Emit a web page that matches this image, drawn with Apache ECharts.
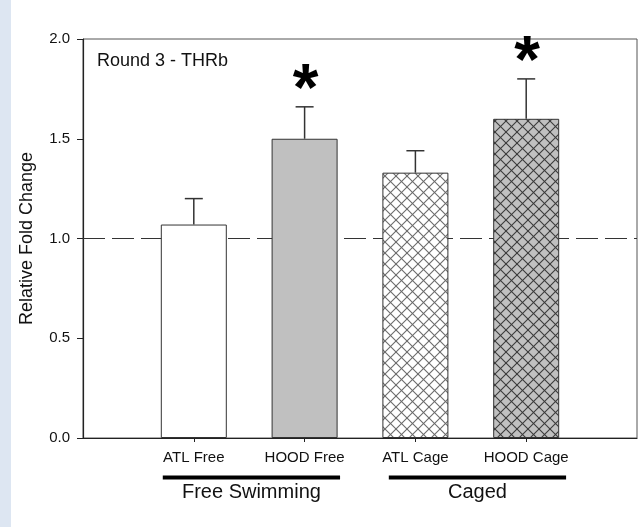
<!DOCTYPE html>
<html>
<head>
<meta charset="utf-8">
<script src="https://cdn.jsdelivr.net/npm/echarts@6/dist/echarts.min.js"></script>
<style>
  html, body { margin: 0; padding: 0; background: #fff; }
  #chart-panel { width: 644px; height: 527px; }
</style>
</head>
<body>
<div id="chart-panel"></div>
<script>
// data
var categories = ['ATL Free', 'HOOD Free', 'ATL Cage', 'HOOD Cage'];
var positions = [1, 2, 3, 4];
var means = [1.07, 1.50, 1.33, 1.60];
var errTops = [1.20, 1.66, 1.44, 1.80];
var significant = [false, true, false, true];
var hatched = [false, false, true, true];
var filled = [false, true, false, true];
var yTicks = [0, 0.5, 1.0, 1.5, 2.0];
var refLevel = 1.0;
var groupNames = ['Free Swimming', 'Caged'];
var groupSpans = [[0.72, 2.32], [2.76, 4.36]];

var FONT = 'Liberation Sans, Arial, sans-serif';

// cross hatch pattern for the caged bars
function makeHatch (bg, lineColor) {
  var s = 11;
  var cv = document.createElement('canvas');
  cv.width = s;
  cv.height = s;
  var ctx = cv.getContext('2d');
  ctx.fillStyle = bg;
  ctx.fillRect(0, 0, s, s);
  ctx.strokeStyle = lineColor;
  ctx.lineWidth = 1.1;
  [-s, 0, s].forEach(function (o) {
    ctx.beginPath();
    ctx.moveTo(o - 1, -1);
    ctx.lineTo(o + s + 1, s + 1);
    ctx.stroke();
    ctx.beginPath();
    ctx.moveTo(o - 1, s + 1);
    ctx.lineTo(o + s + 1, -1);
    ctx.stroke();
  });
  return { image: cv, repeat: 'repeat' };
}

function barColor (i) {
  var bg = filled[i] ? '#c0c0c0' : '#ffffff';
  if (hatched[i]) {
    return makeHatch(bg, filled[i] ? '#3a3a3a' : '#6a6a6a');
  }
  return bg;
}

var barData = positions.map(function (p, i) {
  return {
    value: [p, means[i]],
    itemStyle: { color: barColor(i) }
  };
});

var errData = positions.map(function (p, i) {
  return [p, errTops[i], means[i], significant[i] ? 1 : 0];
});

var chart = echarts.init(document.getElementById('chart-panel'));

var option = {
  backgroundColor: '#fff',
  animation: false,
  title: {
    text: 'Round 3 - THRb',
    left: 92,
    top: 47,
    textStyle: { fontFamily: FONT, fontSize: 18, fontWeight: 'normal', color: '#111' }
  },
  grid: {
    left: 83,
    right: 7,
    top: 39,
    bottom: 89,
    show: true,
    borderColor: '#555',
    borderWidth: 1
  },
  xAxis: {
    type: 'value',
    min: 0,
    max: 5,
    interval: 1,
    splitLine: { show: false },
    axisLine: { lineStyle: { color: '#222', width: 1.2 } },
    axisTick: { customValues: positions, length: 4, lineStyle: { color: '#222' } },
    axisLabel: {
      customValues: positions,
      margin: 12,
      fontFamily: FONT,
      fontSize: 15,
      color: '#111',
      formatter: function (v) {
        return categories[Math.round(v) - 1] || '';
      }
    }
  },
  yAxis: {
    type: 'value',
    min: 0,
    max: 2,
    interval: 0.5,
    name: 'Relative Fold Change',
    nameLocation: 'middle',
    nameGap: 47,
    nameTextStyle: { fontFamily: FONT, fontSize: 18, color: '#111' },
    splitLine: { show: false },
    axisLine: { show: true, lineStyle: { color: '#222', width: 1.2 } },
    axisTick: { length: 6, lineStyle: { color: '#222' } },
    axisLabel: {
      margin: 13,
      fontFamily: FONT,
      fontSize: 15,
      color: '#111',
      formatter: function (v) { return v.toFixed(1); }
    }
  },
  series: [
    {
      type: 'line',
      data: [],
      z: 1,
      silent: true,
      markLine: {
        z: 1,
        symbol: 'none',
        silent: true,
        label: { show: false },
        lineStyle: { type: [22, 7], color: '#333', width: 1 },
        data: [{ yAxis: refLevel }]
      }
    },
    {
      type: 'bar',
      z: 3,
      barWidth: 66,
      data: barData,
      itemStyle: { borderColor: '#333', borderWidth: 1 }
    },
    {
      type: 'custom',
      z: 4,
      data: errData,
      renderItem: function (params, api) {
        var top = api.coord([api.value(0), api.value(1)]);
        var base = api.coord([api.value(0), api.value(2)]);
        var children = [
          {
            type: 'line',
            shape: { x1: top[0], y1: top[1], x2: base[0], y2: base[1] },
            style: { stroke: '#333', lineWidth: 1.5 }
          },
          {
            type: 'line',
            shape: { x1: top[0] - 9, y1: top[1], x2: top[0] + 9, y2: top[1] },
            style: { stroke: '#333', lineWidth: 1.5 }
          }
        ];
        if (api.value(3) === 1) {
          children.push({
            type: 'text',
            style: {
              text: '*',
              x: top[0] + 1,
              y: top[1] + 18,
              align: 'center',
              verticalAlign: 'bottom',
              font: 'bold 66px ' + FONT,
              fill: '#000'
            }
          });
        }
        return { type: 'group', children: children };
      }
    }
  ]
};

chart.setOption(option);

// left page strip and group brackets under the axis
var graphics = [
  {
    type: 'rect',
    left: 0,
    top: 0,
    z: -10,
    shape: { width: 11, height: 527 },
    style: { fill: '#dde6f2' }
  }
];
groupSpans.forEach(function (span, i) {
  var a = chart.convertToPixel({ gridIndex: 0 }, [span[0], 0]);
  var b = chart.convertToPixel({ gridIndex: 0 }, [span[1], 0]);
  graphics.push({
    type: 'rect',
    shape: { x: a[0], y: 475.5, width: b[0] - a[0], height: 4 },
    style: { fill: '#000' }
  });
  graphics.push({
    type: 'text',
    style: {
      text: groupNames[i],
      x: (a[0] + b[0]) / 2,
      y: 482,
      align: 'center',
      verticalAlign: 'top',
      font: '20px ' + FONT,
      fill: '#111'
    }
  });
});
chart.setOption({ graphic: graphics });
</script>
</body>
</html>
